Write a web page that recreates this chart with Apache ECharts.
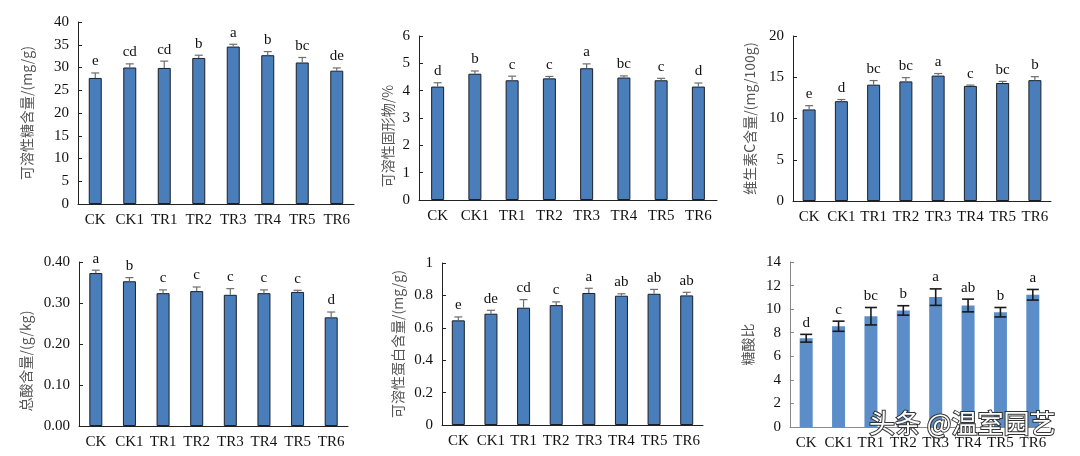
<!DOCTYPE html>
<html>
<head>
<meta charset="utf-8">
<script src="https://cdn.jsdelivr.net/npm/echarts@6/dist/echarts.min.js"></script>
<style>
html,body{margin:0;padding:0;background:#fff;}
#chart{width:1080px;height:456px;}
</style>
</head>
<body>
<div id="chart"></div>
<script>
// ---------- data ----------
const categories = ['CK', 'CK1', 'TR1', 'TR2', 'TR3', 'TR4', 'TR5', 'TR6'];

const sugarValues  = [27.7, 30.0, 29.9, 32.1, 34.6, 32.7, 31.1, 29.3];
const sugarErrors  = [1.1, 0.8, 1.5, 0.6, 0.5, 0.8, 1.1, 0.6];
const sugarLetters = ['e', 'cd', 'cd', 'b', 'a', 'b', 'bc', 'de'];

const solidsValues  = [4.15, 4.62, 4.38, 4.45, 4.82, 4.48, 4.38, 4.15];
const solidsErrors  = [0.14, 0.10, 0.15, 0.07, 0.16, 0.06, 0.07, 0.13];
const solidsLetters = ['d', 'b', 'c', 'c', 'a', 'bc', 'c', 'd'];

const vitcValues  = [11.1, 12.1, 14.1, 14.5, 15.2, 13.95, 14.3, 14.65];
const vitcErrors  = [0.45, 0.2, 0.5, 0.45, 0.25, 0.1, 0.2, 0.42];
const vitcLetters = ['e', 'd', 'bc', 'bc', 'a', 'c', 'bc', 'b'];

const acidValues  = [0.373, 0.353, 0.324, 0.329, 0.320, 0.324, 0.327, 0.265];
const acidErrors  = [0.007, 0.009, 0.008, 0.010, 0.015, 0.008, 0.004, 0.013];
const acidLetters = ['a', 'b', 'c', 'c', 'c', 'c', 'c', 'd'];

const proteinValues  = [0.646, 0.687, 0.724, 0.740, 0.815, 0.798, 0.810, 0.800];
const proteinErrors  = [0.021, 0.021, 0.050, 0.020, 0.029, 0.012, 0.027, 0.019];
const proteinLetters = ['e', 'de', 'cd', 'c', 'a', 'ab', 'ab', 'ab'];

const ratioValues  = [7.53, 8.55, 9.40, 9.89, 11.02, 10.31, 9.74, 11.22];
const ratioErrors  = [0.33, 0.43, 0.74, 0.40, 0.70, 0.54, 0.40, 0.45];
const ratioLetters = ['d', 'c', 'bc', 'b', 'a', 'ab', 'b', 'a'];

const sugarTicks   = {min: 0, max: 40, interval: 5};
const solidsTicks  = {min: 0, max: 6, interval: 1};
const vitcTicks    = {min: 0, max: 20, interval: 5};
const acidTicks    = {min: 0, max: 0.4, interval: 0.1};
const proteinTicks = {min: 0, max: 1, interval: 0.2};
const ratioTicks   = {min: 0, max: 14, interval: 2};

// ---------- chart ----------
const SERIF = '"Liberation Serif", "Times New Roman", serif';
const CJK = '"Noto Sans CJK SC", sans-serif';

const panels = [
  {grid: {left: 78,  top: 22,  width: 276, height: 182}, name: '可溶性糖含量/(mg/g)', gap: 44, pad: [0, 0, 0, 0], ticks: sugarTicks, vals: sugarValues, errs: sugarErrors, lets: sugarLetters, fmt: v => String(v)},
  {grid: {left: 419, top: 36,  width: 298, height: 164}, name: '可溶性固形物/%', gap: 24, pad: [0, 36, 0, 0], ticks: solidsTicks, vals: solidsValues, errs: solidsErrors, lets: solidsLetters, fmt: v => String(v)},
  {grid: {left: 793, top: 36,  width: 258, height: 165}, name: '维生素C含量/(mg/100g)', gap: 36, pad: [0, 0, 0, 0], ticks: vitcTicks, vals: vitcValues, errs: vitcErrors, lets: vitcLetters, fmt: v => String(v)},
  {grid: {left: 79,  top: 262, width: 269, height: 164}, name: '总酸含量/(g/kg)', gap: 46, pad: [0, 34, 0, 0], ticks: acidTicks, vals: acidValues, errs: acidErrors, lets: acidLetters, fmt: v => v.toFixed(2)},
  {grid: {left: 442, top: 263, width: 261, height: 162}, name: '可溶性蛋白含量/(mg/g)', gap: 37, pad: [0, 0, 0, 0], ticks: proteinTicks, vals: proteinValues, errs: proteinErrors, lets: proteinLetters, fmt: v => String(Math.round(v * 10) / 10)},
  {grid: {left: 790, top: 262, width: 259, height: 165}, name: '糖酸比', gap: 35, pad: [0, 0, 0, 0], ticks: ratioTicks, vals: ratioValues, errs: ratioErrors, lets: ratioLetters, fmt: v => String(v), alt: true}
];

const grids = [], xAxes = [], yAxes = [], series = [];

panels.forEach((p, i) => {
  const axisColor = p.alt ? '#8a8a8a' : '#222';
  grids.push(Object.assign({containLabel: false}, p.grid));
  xAxes.push({
    type: 'category', gridIndex: i, data: categories,
    axisLine: {lineStyle: {color: axisColor, width: 1}},
    axisTick: {inside: true, length: 4, lineStyle: {color: axisColor}},
    axisLabel: {color: '#111', fontFamily: SERIF, fontSize: 15, margin: 9, interval: 0},
    splitLine: {show: false}
  });
  yAxes.push({
    type: 'value', gridIndex: i,
    min: p.ticks.min, max: p.ticks.max, interval: p.ticks.interval,
    name: p.name, nameLocation: 'middle', nameGap: p.gap, nameRotate: 90,
    nameTextStyle: {fontFamily: CJK, fontSize: 14, color: '#555', padding: p.pad},
    axisLine: {show: true, lineStyle: {color: axisColor, width: 1}},
    axisTick: {show: true, inside: true, length: 4, lineStyle: {color: axisColor}},
    axisLabel: {color: '#111', fontFamily: SERIF, fontSize: 15, margin: 9, formatter: p.fmt},
    splitLine: {show: false}
  });
  series.push({
    type: 'bar', xAxisIndex: i, yAxisIndex: i,
    data: p.vals, barWidth: 13,
    itemStyle: p.alt
      ? {color: '#5b8dc8'}
      : {color: '#4a7ebb', borderColor: '#1b1f2a', borderWidth: 1},
    silent: true, animation: false
  });
  const errs = p.errs, lets = p.lets, alt = p.alt;
  series.push({
    type: 'custom', xAxisIndex: i, yAxisIndex: i,
    data: p.vals.map((v, k) => [k, v, errs[k]]),
    silent: true, animation: false, clip: false, z: 5,
    renderItem: function (params, api) {
      const x = api.value(0), v = api.value(1), e = api.value(2);
      const top = api.coord([x, v + e]);
      const mid = api.coord([x, v]);
      const bot = api.coord([x, v - e]);
      const cap = alt ? 6 : 4;
      const stroke = alt ? '#1a1a1a' : '#6e6e6e';
      const lw = alt ? 1.6 : 1.2;
      const lowY = alt ? bot[1] : mid[1];
      const children = [
        {type: 'line', shape: {x1: top[0], y1: top[1], x2: top[0], y2: lowY}, style: {stroke: stroke, lineWidth: lw}},
        {type: 'line', shape: {x1: top[0] - cap, y1: top[1], x2: top[0] + cap, y2: top[1]}, style: {stroke: stroke, lineWidth: lw}}
      ];
      if (alt) {
        children.push({type: 'line', shape: {x1: bot[0] - cap, y1: bot[1], x2: bot[0] + cap, y2: bot[1]}, style: {stroke: stroke, lineWidth: lw}});
      }
      children.push({
        type: 'text',
        style: {
          text: lets[params.dataIndex], x: top[0], y: top[1] - 4,
          align: 'center', verticalAlign: 'bottom',
          fontFamily: SERIF, fontSize: 15, fill: '#111'
        }
      });
      return {type: 'group', children: children};
    }
  });
});

const chart = echarts.init(document.getElementById('chart'), null, {renderer: 'canvas'});
chart.setOption({
  backgroundColor: '#ffffff',
  animation: false,
  grid: grids,
  xAxis: xAxes,
  yAxis: yAxes,
  series: series,
  graphic: [{
    type: 'text', left: 868, top: 409, z: 100,
    style: {
      text: '头条 @温室园艺',
      fontFamily: CJK, fontSize: 26,
      fill: '#ffffff', stroke: '#333333', lineWidth: 2
    }
  }]
});
</script>
</body>
</html>
